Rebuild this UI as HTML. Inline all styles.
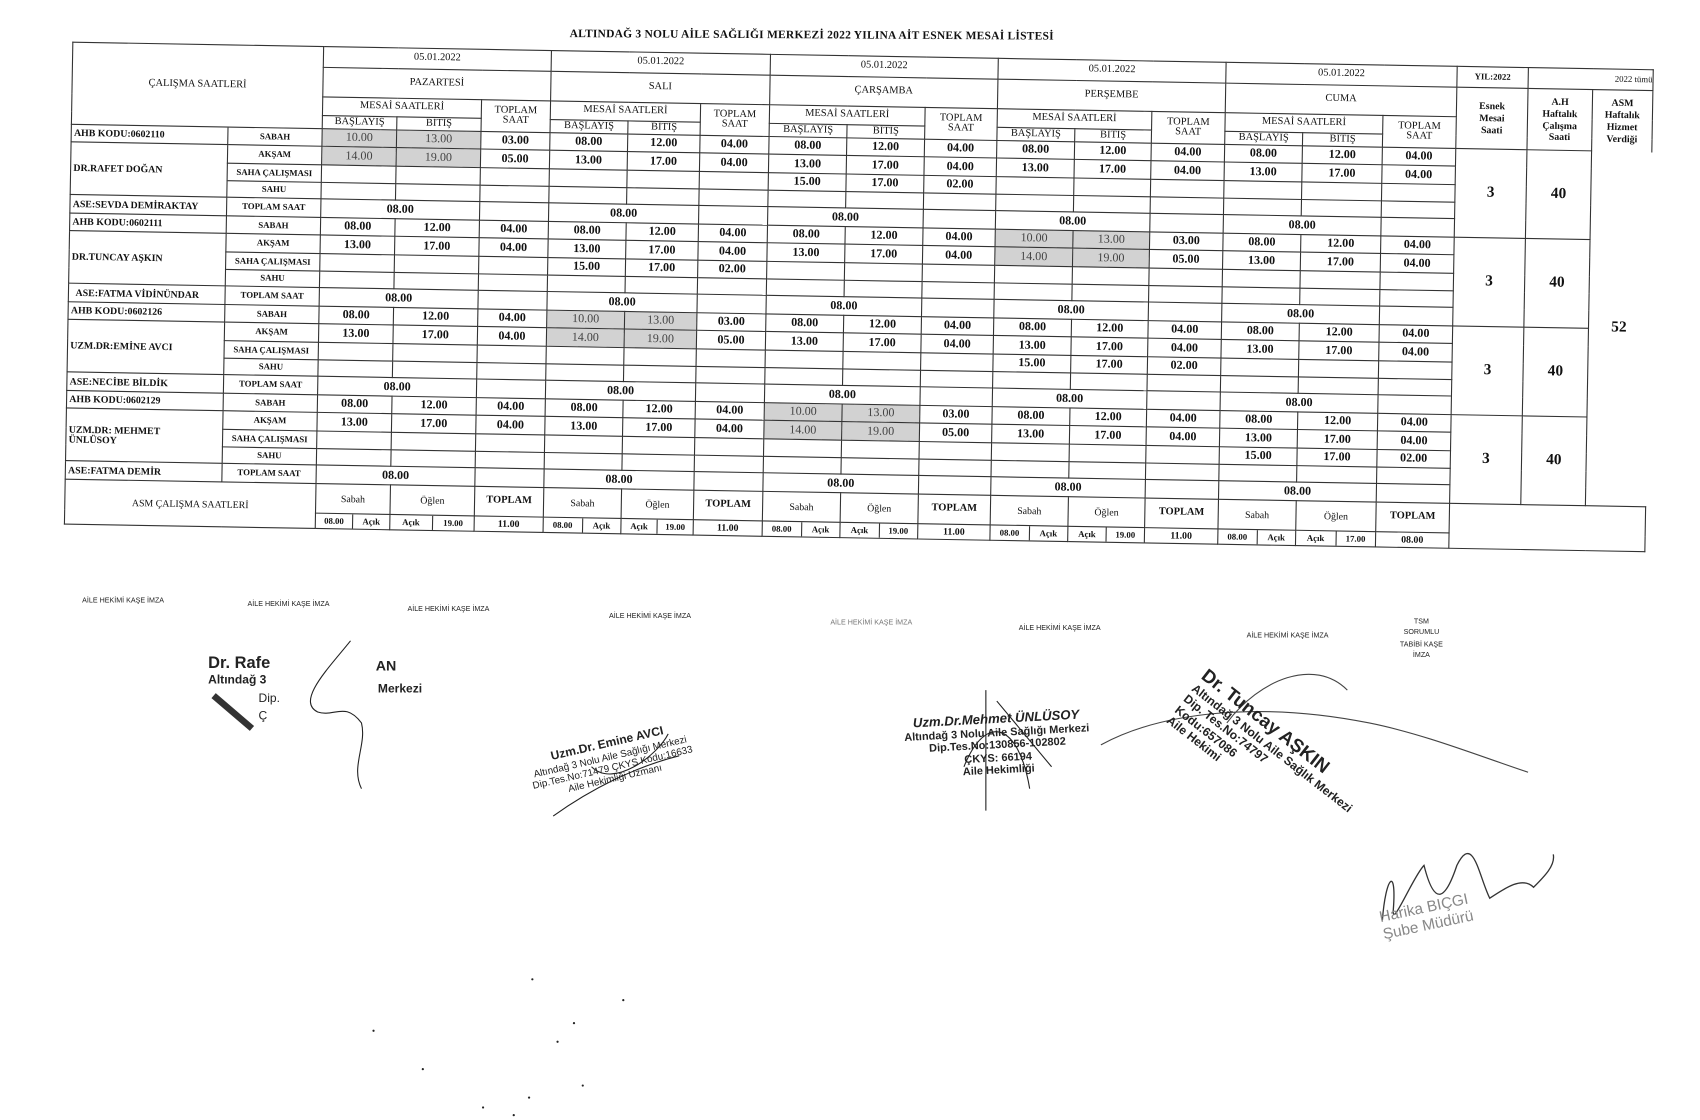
<!DOCTYPE html>
<html><head><meta charset="utf-8">
<style>
html,body{margin:0;padding:0;background:#fff;}
body{width:1700px;height:1119px;overflow:hidden;position:relative;}
#w{position:absolute;left:0;top:0;width:1552px;height:1022px;transform:scale(1.0954);transform-origin:0 0;font-family:"Liberation Serif",serif;color:#111;}
.title{position:absolute;left:520px;top:27px;font-size:10.5px;font-weight:bold;letter-spacing:.2px;transform:rotate(.3deg);}
#tb{position:absolute;left:66px;top:38px;transform:rotate(1deg);transform-origin:0 0;}
table{border-collapse:collapse;table-layout:fixed;}
td{border:1.3px solid #333;padding:0;text-align:center;vertical-align:middle;font-size:11px;font-weight:bold;line-height:1;overflow:hidden;white-space:nowrap;}
td.n{text-align:left;font-size:9px;padding-left:2px;}
td.t{font-size:8px;}
td.h{font-size:9.5px;font-weight:normal;}
td.hs{font-size:9px;font-weight:bold;white-space:normal;line-height:1.2;}
td.g{background:#d2d2d2;font-weight:normal;color:#444;}
td.e{font-size:14px;}
td.asm{border:none;font-size:14px;}
td.s{font-size:9px;font-weight:normal;}
.sp{display:flex;height:100%;font-size:8px;}
.sp span{flex:1;border-right:1px solid #333;line-height:13px;}
.sp span:last-child{border-right:none;}
.lab{position:absolute;font-size:6.5px;font-family:"Liberation Sans",sans-serif;color:#222;}
.st{position:absolute;font-family:"Liberation Sans",sans-serif;color:#222;line-height:1.15;white-space:nowrap;}
.dot{position:absolute;width:2px;height:2px;background:#222;border-radius:1px;}
</style></head><body><div id="w">
<div class="title">ALTINDAĞ 3 NOLU AİLE SAĞLIĞI MERKEZİ  2022 YILINA AİT ESNEK MESAİ LİSTESİ</div>
<div id="tb"><table>
<colgroup><col style="width:143px"><col style="width:86px">
<col style="width:68px"><col style="width:77px"><col style="width:63px">
<col style="width:71px"><col style="width:66px"><col style="width:63px">
<col style="width:71px"><col style="width:71px"><col style="width:66px">
<col style="width:71px"><col style="width:70px"><col style="width:67px">
<col style="width:71px"><col style="width:73px"><col style="width:67px">
<col style="width:65px"><col style="width:59px"><col style="width:55px"></colgroup>
<tr style="height:19px"><td colspan="2" rowspan="4" class="h">ÇALIŞMA SAATLERİ</td><td colspan="3" class="h">05.01.2022</td><td colspan="3" class="h">05.01.2022</td><td colspan="3" class="h">05.01.2022</td><td colspan="3" class="h">05.01.2022</td><td colspan="3" class="h">05.01.2022</td><td class="h" style="font-size:8px;font-weight:bold">YIL:2022</td><td colspan="2" class="h" style="font-size:8px;text-align:right">2022 tümü</td></tr>
<tr style="height:27px"><td colspan="3" class="h">PAZARTESİ</td><td colspan="3" class="h">SALI</td><td colspan="3" class="h">ÇARŞAMBA</td><td colspan="3" class="h">PERŞEMBE</td><td colspan="3" class="h">CUMA</td><td rowspan="3" class="hs">Esnek<br>Mesai<br>Saati</td><td rowspan="3" class="hs">A.H<br>Haftalık<br>Çalışma<br>Saati</td><td rowspan="3" class="hs" style="border-bottom:none">ASM<br>Haftalık<br>Hizmet<br>Verdiği</td></tr>
<tr style="height:17px"><td colspan="2" class="h">MESAİ SAATLERİ</td><td rowspan="2" class="h">TOPLAM<br>SAAT</td><td colspan="2" class="h">MESAİ SAATLERİ</td><td rowspan="2" class="h">TOPLAM<br>SAAT</td><td colspan="2" class="h">MESAİ SAATLERİ</td><td rowspan="2" class="h">TOPLAM<br>SAAT</td><td colspan="2" class="h">MESAİ SAATLERİ</td><td rowspan="2" class="h">TOPLAM<br>SAAT</td><td colspan="2" class="h">MESAİ SAATLERİ</td><td rowspan="2" class="h">TOPLAM<br>SAAT</td></tr>
<tr style="height:12px"><td class="h">BAŞLAYIŞ</td><td class="h">BİTİŞ</td><td class="h">BAŞLAYIŞ</td><td class="h">BİTİŞ</td><td class="h">BAŞLAYIŞ</td><td class="h">BİTİŞ</td><td class="h">BAŞLAYIŞ</td><td class="h">BİTİŞ</td><td class="h">BAŞLAYIŞ</td><td class="h">BİTİŞ</td></tr>

<tr style="height:16px"><td class="n">AHB KODU:0602110</td><td class="t">SABAH</td><td class="g">10.00</td><td class="g">13.00</td><td>03.00</td><td>08.00</td><td>12.00</td><td>04.00</td><td>08.00</td><td>12.00</td><td>04.00</td><td>08.00</td><td>12.00</td><td>04.00</td><td>08.00</td><td>12.00</td><td>04.00</td><td rowspan="5" class="e">3</td><td rowspan="5" class="e">40</td><td rowspan="20" class="asm">52</td></tr>
<tr style="height:17px"><td rowspan="3" class="n">DR.RAFET DOĞAN</td><td class="t">AKŞAM</td><td class="g">14.00</td><td class="g">19.00</td><td>05.00</td><td>13.00</td><td>17.00</td><td>04.00</td><td>13.00</td><td>17.00</td><td>04.00</td><td>13.00</td><td>17.00</td><td>04.00</td><td>13.00</td><td>17.00</td><td>04.00</td></tr>
<tr style="height:16px"><td class="t">SAHA ÇALIŞMASI</td><td></td><td></td><td></td><td></td><td></td><td></td><td>15.00</td><td>17.00</td><td>02.00</td><td></td><td></td><td></td><td></td><td></td><td></td></tr>
<tr style="height:15px"><td class="t">SAHU</td><td></td><td></td><td></td><td></td><td></td><td></td><td></td><td></td><td></td><td></td><td></td><td></td><td></td><td></td><td></td></tr>
<tr style="height:17px"><td class="n">ASE:SEVDA DEMİRAKTAY</td><td class="t">TOPLAM SAAT</td><td colspan="2">08.00</td><td></td><td colspan="2">08.00</td><td></td><td colspan="2">08.00</td><td></td><td colspan="2">08.00</td><td></td><td colspan="2">08.00</td><td></td></tr>

<tr style="height:16px"><td class="n">AHB KODU:0602111</td><td class="t">SABAH</td><td>08.00</td><td>12.00</td><td>04.00</td><td>08.00</td><td>12.00</td><td>04.00</td><td>08.00</td><td>12.00</td><td>04.00</td><td class="g">10.00</td><td class="g">13.00</td><td>03.00</td><td>08.00</td><td>12.00</td><td>04.00</td><td rowspan="5" class="e">3</td><td rowspan="5" class="e">40</td></tr>
<tr style="height:17px"><td rowspan="3" class="n">DR.TUNCAY AŞKIN</td><td class="t">AKŞAM</td><td>13.00</td><td>17.00</td><td>04.00</td><td>13.00</td><td>17.00</td><td>04.00</td><td>13.00</td><td>17.00</td><td>04.00</td><td class="g">14.00</td><td class="g">19.00</td><td>05.00</td><td>13.00</td><td>17.00</td><td>04.00</td></tr>
<tr style="height:16px"><td class="t">SAHA ÇALIŞMASI</td><td></td><td></td><td></td><td>15.00</td><td>17.00</td><td>02.00</td><td></td><td></td><td></td><td></td><td></td><td></td><td></td><td></td><td></td></tr>
<tr style="height:15px"><td class="t">SAHU</td><td></td><td></td><td></td><td></td><td></td><td></td><td></td><td></td><td></td><td></td><td></td><td></td><td></td><td></td><td></td></tr>
<tr style="height:17px"><td class="n">&nbsp; ASE:FATMA VİDİNÜNDAR</td><td class="t">TOPLAM SAAT</td><td colspan="2">08.00</td><td></td><td colspan="2">08.00</td><td></td><td colspan="2">08.00</td><td></td><td colspan="2">08.00</td><td></td><td colspan="2">08.00</td><td></td></tr>

<tr style="height:16px"><td class="n">AHB KODU:0602126</td><td class="t">SABAH</td><td>08.00</td><td>12.00</td><td>04.00</td><td class="g">10.00</td><td class="g">13.00</td><td>03.00</td><td>08.00</td><td>12.00</td><td>04.00</td><td>08.00</td><td>12.00</td><td>04.00</td><td>08.00</td><td>12.00</td><td>04.00</td><td rowspan="5" class="e">3</td><td rowspan="5" class="e">40</td></tr>
<tr style="height:17px"><td rowspan="3" class="n">UZM.DR:EMİNE AVCI</td><td class="t">AKŞAM</td><td>13.00</td><td>17.00</td><td>04.00</td><td class="g">14.00</td><td class="g">19.00</td><td>05.00</td><td>13.00</td><td>17.00</td><td>04.00</td><td>13.00</td><td>17.00</td><td>04.00</td><td>13.00</td><td>17.00</td><td>04.00</td></tr>
<tr style="height:16px"><td class="t">SAHA ÇALIŞMASI</td><td></td><td></td><td></td><td></td><td></td><td></td><td></td><td></td><td></td><td>15.00</td><td>17.00</td><td>02.00</td><td></td><td></td><td></td></tr>
<tr style="height:15px"><td class="t">SAHU</td><td></td><td></td><td></td><td></td><td></td><td></td><td></td><td></td><td></td><td></td><td></td><td></td><td></td><td></td><td></td></tr>
<tr style="height:17px"><td class="n">ASE:NECİBE BİLDİK</td><td class="t">TOPLAM SAAT</td><td colspan="2">08.00</td><td></td><td colspan="2">08.00</td><td></td><td colspan="2">08.00</td><td></td><td colspan="2">08.00</td><td></td><td colspan="2">08.00</td><td></td></tr>

<tr style="height:16px"><td class="n">AHB KODU:0602129</td><td class="t">SABAH</td><td>08.00</td><td>12.00</td><td>04.00</td><td>08.00</td><td>12.00</td><td>04.00</td><td class="g">10.00</td><td class="g">13.00</td><td>03.00</td><td>08.00</td><td>12.00</td><td>04.00</td><td>08.00</td><td>12.00</td><td>04.00</td><td rowspan="5" class="e">3</td><td rowspan="5" class="e">40</td></tr>
<tr style="height:17px"><td rowspan="3" class="n" style="white-space:normal">UZM.DR: MEHMET<br>ÜNLÜSOY</td><td class="t">AKŞAM</td><td>13.00</td><td>17.00</td><td>04.00</td><td>13.00</td><td>17.00</td><td>04.00</td><td class="g">14.00</td><td class="g">19.00</td><td>05.00</td><td>13.00</td><td>17.00</td><td>04.00</td><td>13.00</td><td>17.00</td><td>04.00</td></tr>
<tr style="height:16px"><td class="t">SAHA ÇALIŞMASI</td><td></td><td></td><td></td><td></td><td></td><td></td><td></td><td></td><td></td><td></td><td></td><td></td><td>15.00</td><td>17.00</td><td>02.00</td></tr>
<tr style="height:15px"><td class="t">SAHU</td><td></td><td></td><td></td><td></td><td></td><td></td><td></td><td></td><td></td><td></td><td></td><td></td><td></td><td></td><td></td></tr>
<tr style="height:17px"><td class="n">ASE:FATMA DEMİR</td><td class="t">TOPLAM SAAT</td><td colspan="2">08.00</td><td></td><td colspan="2">08.00</td><td></td><td colspan="2">08.00</td><td></td><td colspan="2">08.00</td><td></td><td colspan="2">08.00</td><td></td></tr>

<tr style="height:27px"><td colspan="2" rowspan="2" class="h" style="font-size:9px">ASM ÇALIŞMA SAATLERİ</td>
<td class="s">Sabah</td><td class="s">Öğlen</td><td class="h" style="font-weight:bold">TOPLAM</td>
<td class="s">Sabah</td><td class="s">Öğlen</td><td class="h" style="font-weight:bold">TOPLAM</td>
<td class="s">Sabah</td><td class="s">Öğlen</td><td class="h" style="font-weight:bold">TOPLAM</td>
<td class="s">Sabah</td><td class="s">Öğlen</td><td class="h" style="font-weight:bold">TOPLAM</td>
<td class="s">Sabah</td><td class="s">Öğlen</td><td class="h" style="font-weight:bold">TOPLAM</td>
<td colspan="3" rowspan="2"></td></tr>
<tr style="height:13px">
<td><div class="sp"><span>08.00</span><span>Açık</span></div></td><td><div class="sp"><span>Açık</span><span>19.00</span></div></td><td style="font-size:9px">11.00</td>
<td><div class="sp"><span>08.00</span><span>Açık</span></div></td><td><div class="sp"><span>Açık</span><span>19.00</span></div></td><td style="font-size:9px">11.00</td>
<td><div class="sp"><span>08.00</span><span>Açık</span></div></td><td><div class="sp"><span>Açık</span><span>19.00</span></div></td><td style="font-size:9px">11.00</td>
<td><div class="sp"><span>08.00</span><span>Açık</span></div></td><td><div class="sp"><span>Açık</span><span>19.00</span></div></td><td style="font-size:9px">11.00</td>
<td><div class="sp"><span>08.00</span><span>Açık</span></div></td><td><div class="sp"><span>Açık</span><span>17.00</span></div></td><td style="font-size:9px">08.00</td>
</tr>
</table></div>

<div class="lab" style="left:75px;top:545px">AİLE HEKİMİ KAŞE İMZA</div>
<div class="lab" style="left:226px;top:548px">AİLE HEKİMİ KAŞE İMZA</div>
<div class="lab" style="left:372px;top:553px">AİLE HEKİMİ KAŞE İMZA</div>
<div class="lab" style="left:556px;top:559px">AİLE HEKİMİ KAŞE İMZA</div>
<div class="lab" style="left:758px;top:565px;color:#777">AİLE HEKİMİ KAŞE İMZA</div>
<div class="lab" style="left:930px;top:570px">AİLE HEKİMİ KAŞE İMZA</div>
<div class="lab" style="left:1138px;top:577px">AİLE HEKİMİ KAŞE İMZA</div>
<div class="lab" style="left:1278px;top:563px;text-align:center;line-height:1.6">TSM<br>SORUMLU<br>TABİBİ KAŞE<br>İMZA</div>

<div class="st" style="left:190px;top:597px;font-size:15px;font-weight:bold">Dr. Rafe</div>
<div class="st" style="left:343px;top:601px;font-size:13px;font-weight:bold">AN</div>
<div class="st" style="left:190px;top:615px;font-size:11px;font-weight:bold">Altındağ 3</div>
<div class="st" style="left:345px;top:623px;font-size:11px;font-weight:bold">Merkezi</div>
<div class="st" style="left:236px;top:632px;font-size:11px">Dip.</div>
<div class="st" style="left:236px;top:648px;font-size:11px">Ç</div>
<svg style="position:absolute;left:0;top:0" width="1552" height="1022">
<path d="M320 585 C300 610 270 640 290 650 C305 655 315 640 330 660 C335 680 320 700 330 720" fill="none" stroke="#222" stroke-width="1"/>
<path d="M195 635 L230 665" stroke="#333" stroke-width="6"/>
<path d="M505 745 C540 720 580 700 620 690 M540 700 C560 720 600 690 610 670" fill="none" stroke="#222" stroke-width="1"/>
<path d="M900 630 L900 740 M880 700 C900 650 930 660 940 720 M910 640 L960 700" fill="none" stroke="#222" stroke-width="1"/>
<path d="M1005 680 C1060 650 1150 640 1250 660 C1300 670 1350 690 1395 705 M1120 660 C1150 620 1200 600 1230 630" fill="none" stroke="#444" stroke-width="1"/>
<path d="M1262 840 C1265 800 1275 790 1272 830 C1270 850 1290 800 1300 790 C1310 830 1320 820 1330 790 C1345 760 1350 800 1360 820 C1375 810 1390 800 1400 810 C1410 800 1420 790 1418 780" fill="none" stroke="#333" stroke-width="1.2"/>
</svg>
<div class="st" style="left:480px;top:690px;font-size:9px;transform:rotate(-13deg);transform-origin:0 0;text-align:center">
<b style="font-size:11px">Uzm.Dr. Emine AVCI</b><br>Altındağ 3 Nolu Aile Sağlığı Merkezi<br>Dip.Tes.No:71479 ÇKYS Kodu:16633<br>Aile Hekimliği Uzmanı</div>
<div class="st" style="left:826px;top:650px;font-size:10px;text-align:center;font-weight:bold;transform:rotate(-3deg)">
<i style="font-size:12px">Uzm.Dr.Mehmet ÜNLÜSOY</i><br>Altındağ 3 Nolu Aile Sağlığı Merkezi<br>Dip.Tes.No:130856-102802<br>ÇKYS: 66194<br>Aile Hekimliği</div>
<div class="st" style="left:1105px;top:607px;font-size:11px;transform:rotate(38deg);transform-origin:0 0;font-weight:bold">
<span style="font-size:17px">Dr. Tuncay AŞKIN</span><br>Altındağ 3 Nolu Aile Sağlık Merkezi<br>Dip. Tes.No:74797<br>Kodu:657086<br>Aile Hekimi</div>
<div class="st" style="left:1260px;top:820px;font-size:14px;color:#888;transform:rotate(-12deg)">Harika BIÇGI<br>Şube Müdürü</div>

<div class="dot" style="left:485px;top:893px"></div><div class="dot" style="left:568px;top:912px"></div>
<div class="dot" style="left:523px;top:933px"></div><div class="dot" style="left:508px;top:950px"></div>
<div class="dot" style="left:531px;top:990px"></div><div class="dot" style="left:482px;top:1001px"></div>
<div class="dot" style="left:440px;top:1010px"></div><div class="dot" style="left:468px;top:1017px"></div>
<div class="dot" style="left:340px;top:940px"></div><div class="dot" style="left:385px;top:975px"></div>
</div></body></html>
